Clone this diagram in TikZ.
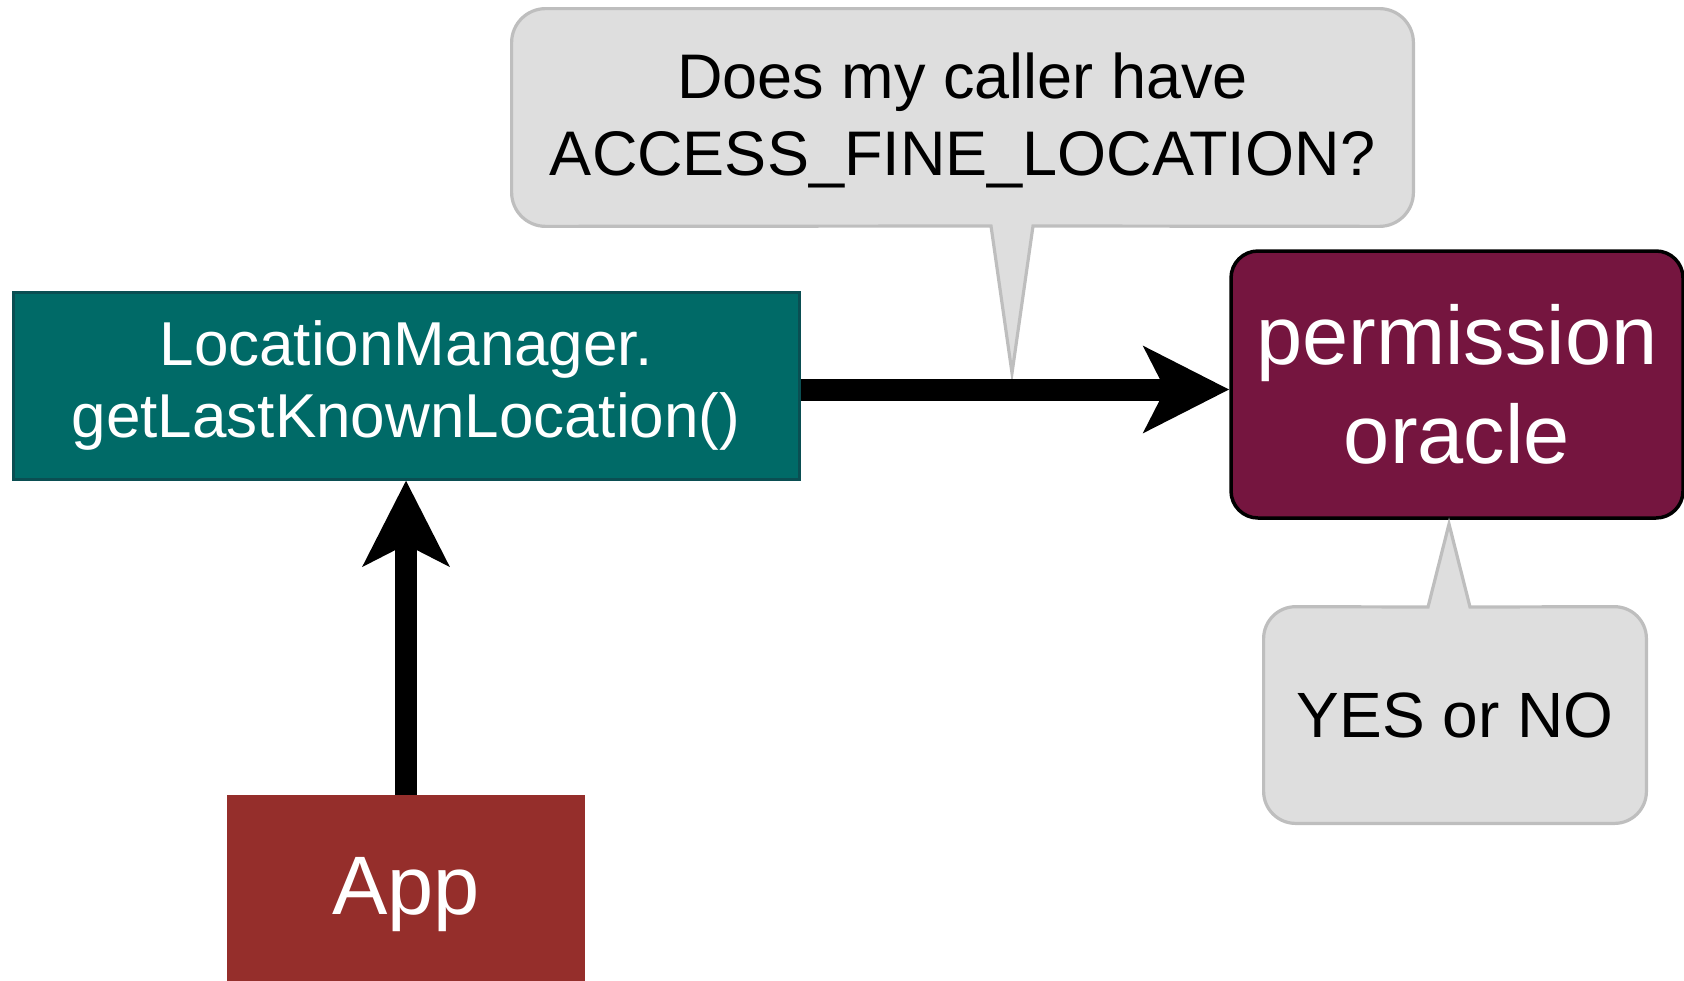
\documentclass[tikz,border=0pt]{standalone}
\usepackage{fontspec}
\setmainfont{Liberation Sans}
\usetikzlibrary{arrows.meta,positioning}
\definecolor{tealfill}{RGB}{0,106,103}
\definecolor{tealedge}{RGB}{10,78,82}
\definecolor{plumfill}{RGB}{117,21,63}
\definecolor{appred}{RGB}{149,46,43}
\definecolor{bubblegray}{RGB}{222,222,222}
\definecolor{bubbleedge}{RGB}{190,190,190}

\begin{document}
\begin{tikzpicture}[
  x=0.5pt, y=-0.5pt,
  callbox/.style={draw=tealedge, line width=1.5pt, fill=tealfill, text=white, align=center, inner sep=0pt,
    minimum width=393pt, minimum height=93.5pt, font=\fontsize{31pt}{36pt}\selectfont},
  oracle/.style={draw=black, line width=1.75pt, fill=plumfill, text=white, rounded corners=13.5pt, align=center, inner sep=0pt,
    minimum width=226pt, minimum height=133.5pt, font=\fontsize{41.5pt}{49.5pt}\selectfont},
  appbox/.style={fill=appred, text=white, inner sep=0pt, minimum width=179pt, minimum height=100pt,
    font=\fontsize{41.5pt}{49.5pt}\selectfont},
  bubbletext/.style={align=center, inner sep=0pt, text=black},
  bubble/.style={fill=bubblegray, draw=bubbleedge, line width=1.6pt, line join=miter},
  arr/.style={-{Stealth[length=42.5pt, width=42.5pt, inset=10.5pt]}, line width=11pt}
]
\useasboundingbox (0,0) rectangle (1684,980);

% boxes
\node[callbox] (lm) at (406,385.5) {LocationManager.\\getLastKnownLocation()};
\node[oracle] (perm) at (1457,384.5) {permission\\oracle};
\node[appbox] (app) at (406,895) {App};

% speech bubbles
\node[bubbletext, minimum width=450.5pt, minimum height=108.5pt,
  font=\fontsize{31.5pt}{38.5pt}\selectfont] (ask) at (962.5,117.5) {};
\filldraw[bubble] (ask.west) [rounded corners=17pt] -- (ask.north west) -- (ask.north east) -- (ask.south east)
  [sharp corners] -- (1033,226) -- (1012,373) -- (991,226) [rounded corners=17pt] -- (ask.south west) -- cycle;
\node[bubbletext, font=\fontsize{31.5pt}{38.5pt}\selectfont] at ([yshift=-1.5pt]ask) {Does my caller have\\ACCESS\_FINE\_LOCATION?};

\node[bubbletext, minimum width=191pt, minimum height=108pt] (ans) at (1455,715) {};
\filldraw[bubble] (ans.east) [rounded corners=16pt] -- (ans.south east) -- (ans.south west) -- (ans.north west)
  [sharp corners] -- (1428,607) -- (1449,524) -- (1470,607) [rounded corners=16pt] -- (ans.north east) -- cycle;
\node[bubbletext, font=\fontsize{32pt}{38pt}\selectfont] at (ans) {YES or NO};

% calls
\draw[arr] (app) -- (lm);
\draw[arr] ([yshift=-2pt]lm.east) -- ([yshift=-2pt]lm.east -| perm.west);
\end{tikzpicture}
\end{document}
